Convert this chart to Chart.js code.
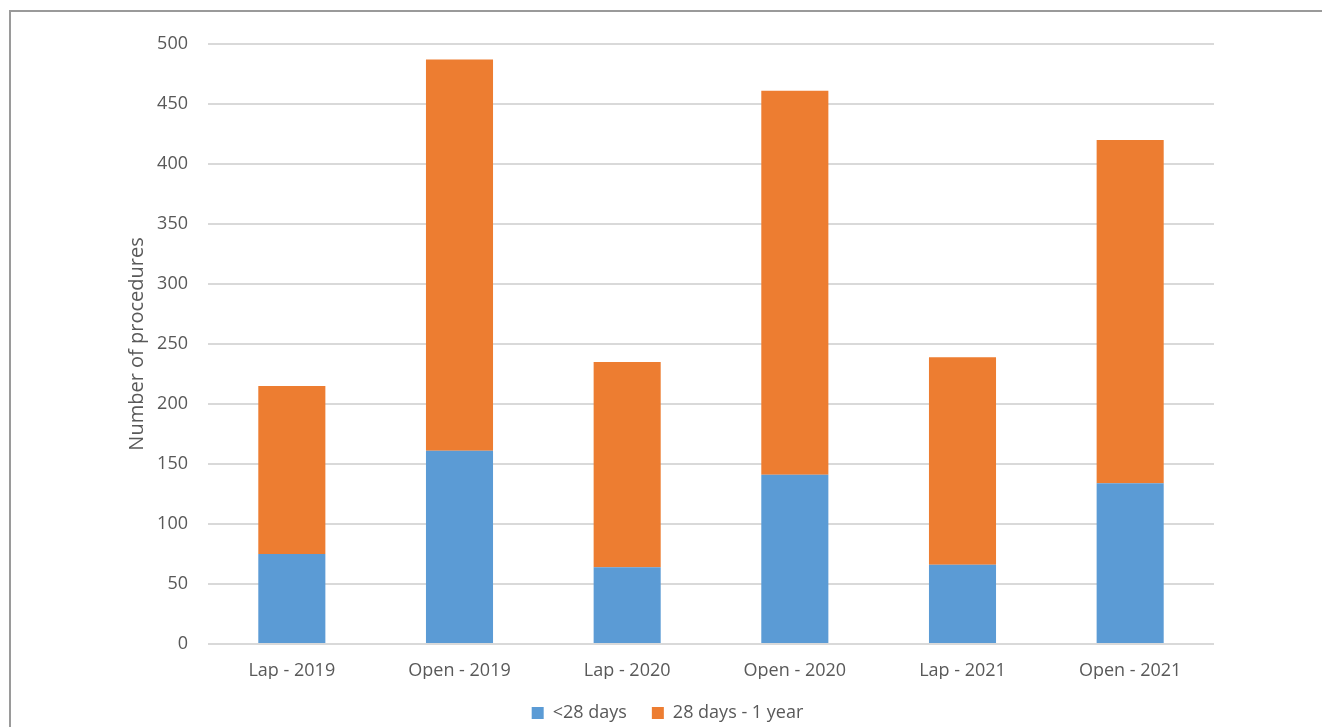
<!DOCTYPE html>
<html>
<head>
<meta charset="utf-8">
<script src="https://cdn.jsdelivr.net/npm/chart.js@4"></script>
<style>
    html, body { margin: 0; padding: 0; background: #fff; }
    #wrap { position: relative; width: 1322px; height: 727px; overflow: hidden; }
    #frame {
        position: absolute; left: 9px; top: 10px; width: 1400px; height: 800px;
        border-top: 2px solid #9a9a9a; border-left: 2px solid #9a9a9a;
    }
    canvas { position: absolute; left: 0; top: 0; }
</style>
</head>
<body>
<div id="wrap">
    <div id="frame"></div>
    <canvas id="procChart" width="1322" height="727"></canvas>
</div>
<script>
// Procedures by approach and year
const categories = ["Lap - 2019", "Open - 2019", "Lap - 2020", "Open - 2020", "Lap - 2021", "Open - 2021"];
const under28Days = [75, 161, 64, 141, 66, 134];
const upToOneYear = [140, 326, 171, 320, 173, 286];
const yTicks = [0, 50, 100, 150, 200, 250, 300, 350, 400, 450, 500];

const textColor = "#595959";
const fontFamily = "'Open Sans', 'Liberation Sans', sans-serif";

const ctx = document.getElementById("procChart").getContext("2d");
const chart = new Chart(ctx, {
    type: "bar",
    data: {
        labels: categories,
        datasets: [
            {
                label: "<28 days",
                data: under28Days,
                backgroundColor: "#5B9BD5",
                barPercentage: 0.4,
                categoryPercentage: 1.0
            },
            {
                label: "28 days - 1 year",
                data: upToOneYear,
                backgroundColor: "#ED7D31",
                barPercentage: 0.4,
                categoryPercentage: 1.0
            }
        ]
    },
    options: {
        responsive: false,
        animation: false,
        layout: {
            // legend padding is wide for the gap between items, so let it run a bit past the bottom edge
            padding: { left: 121, right: 108, top: 44, bottom: -5 }
        },
        plugins: {
            tooltip: { enabled: false },
            legend: {
                position: "bottom",
                labels: {
                    color: textColor,
                    font: { family: fontFamily, size: 18 },
                    boxWidth: 12,
                    boxHeight: 12,
                    padding: 25
                }
            }
        },
        scales: {
            x: {
                stacked: true,
                grid: { display: false },
                border: { display: false },
                ticks: {
                    color: textColor,
                    font: { family: fontFamily, size: 18 },
                    padding: 8,
                    maxRotation: 0
                },
                afterFit: function(scale) { scale.height = 35; }
            },
            y: {
                stacked: true,
                min: 0,
                max: 500,
                afterBuildTicks: function(scale) {
                    scale.ticks = yTicks.map(v => ({ value: v }));
                },
                grid: { color: "#d9d9d9", lineWidth: 2, drawTicks: false },
                border: { display: false },
                ticks: {
                    color: textColor,
                    font: { family: fontFamily, size: 18 },
                    padding: 20
                },
                title: {
                    display: true,
                    text: "Number of procedures",
                    color: textColor,
                    font: { family: fontFamily, size: 20 }
                },
                afterFit: function(scale) { scale.width = 87; }
            }
        }
    }
});
</script>
</body>
</html>
